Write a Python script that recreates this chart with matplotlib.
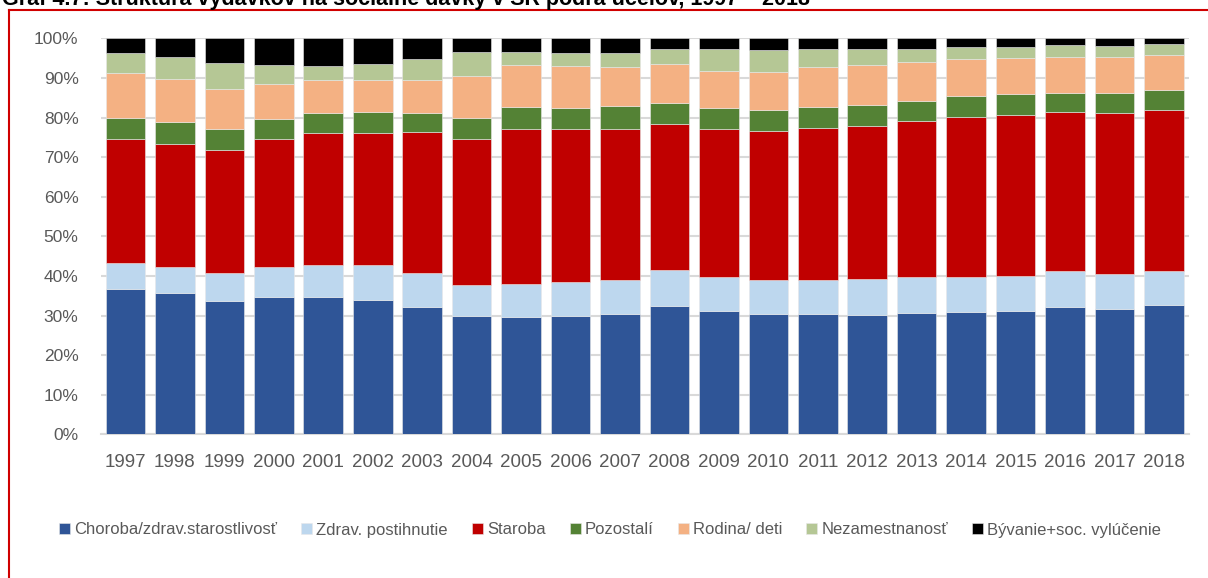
import numpy as np
import matplotlib
matplotlib.use("Agg")
import matplotlib.pyplot as plt
from matplotlib.lines import Line2D

# data (shares in %)
years = [str(y) for y in range(1997, 2019)]
choroba = [36.7, 35.7, 33.7, 34.6, 34.7, 33.9, 32.1, 29.8, 29.6, 30.0, 30.5,
           32.4, 31.2, 30.5, 30.3, 30.1, 30.6, 30.8, 31.1, 32.1, 31.6, 32.7]
postihnutie = [6.6, 6.6, 7.0, 7.6, 8.1, 8.9, 8.7, 7.9, 8.3, 8.5, 8.5,
               9.1, 8.5, 8.5, 8.7, 9.1, 9.1, 8.9, 8.8, 9.1, 8.8, 8.6]
staroba = [31.3, 31.1, 31.2, 32.4, 33.4, 33.4, 35.5, 37.0, 39.1, 38.5, 38.2,
           36.9, 37.3, 37.7, 38.3, 38.7, 39.5, 40.5, 40.8, 40.3, 40.8, 40.7]
pozostali = [5.3, 5.4, 5.2, 5.0, 4.9, 5.2, 4.8, 5.3, 5.6, 5.4, 5.6,
             5.3, 5.3, 5.2, 5.3, 5.3, 5.0, 5.2, 5.2, 4.8, 4.9, 4.9]
rodina = [11.3, 10.9, 10.0, 8.9, 8.4, 8.1, 8.4, 10.4, 10.6, 10.7, 10.0,
          9.7, 9.4, 9.7, 10.1, 10.1, 9.8, 9.4, 9.1, 8.9, 9.3, 8.8]
nezamestnanost = [5.0, 5.6, 6.7, 4.8, 3.6, 4.0, 5.4, 6.1, 3.3, 3.3, 3.6,
                  3.8, 5.7, 5.4, 4.5, 3.9, 3.4, 2.9, 2.9, 3.0, 2.7, 2.9]
byvanie = [3.8, 4.7, 6.2, 6.7, 6.9, 6.5, 5.1, 3.5, 3.5, 3.6, 3.6,
           2.8, 2.6, 3.0, 2.8, 2.8, 2.6, 2.3, 2.1, 1.8, 1.9, 1.4]

labels = ["Choroba/zdrav.starostlivosť", "Zdrav. postihnutie", "Staroba",
          "Pozostalí", "Rodina/ deti", "Nezamestnanosť", "Bývanie+soc. vylúčenie"]
series = [choroba, postihnutie, staroba, pozostali, rodina, nezamestnanost, byvanie]
colors = ["#2F5597", "#BDD7EE", "#C00000", "#548235", "#F4B183", "#B5C795", "#000000"]

plt.rcParams['font.family'] = ['Liberation Sans', 'DejaVu Sans']
grey = "#595959"

fig = plt.figure(figsize=(12.08, 5.78), dpi=100)
ax = fig.add_axes([0.0834, 0.2486, 0.9006, 0.6851])

x = np.arange(len(years))
bottom = np.zeros(len(years))
for vals, lab, col in zip(series, labels, colors):
    vals = np.array(vals)
    ax.bar(x, vals, 0.8, bottom=bottom, color=col, label=lab,
           edgecolor="#E8E8E8", linewidth=0.4, zorder=3)
    bottom += vals

ax.set_xlim(-0.5, 21.5)
ax.set_ylim(0, 100)
ax.set_yticks(range(0, 101, 10))
ax.set_yticklabels([f"{v}%" for v in range(0, 101, 10)])
ax.set_xticks(x)
ax.set_xticklabels(years)
ax.yaxis.grid(True, color="#D9D9D9", linewidth=1.5, zorder=0)
ax.tick_params(axis="both", length=0, colors=grey)
ax.tick_params(axis="y", labelsize=12.5, pad=16)
ax.tick_params(axis="x", labelsize=13.5, pad=14)
for s in ["top", "right", "left"]:
    ax.spines[s].set_visible(False)
ax.spines["bottom"].set_color("#D9D9D9")
ax.spines["bottom"].set_linewidth(1.5)

fig.legend(loc="center", bbox_to_anchor=(0.505, 1 - 530 / 578), ncol=7,
           frameon=False, fontsize=12, handlelength=0.65, handleheight=0.65,
           handletextpad=0.25, columnspacing=1.45, labelcolor=grey)

# frame and cut-off title
fig.add_artist(Line2D([9 / 1208, 9 / 1208], [0, 1 - 10 / 578], transform=fig.transFigure,
                      color="#D00000", linewidth=1.5))
fig.add_artist(Line2D([9 / 1208, 1], [1 - 10 / 578, 1 - 10 / 578], transform=fig.transFigure,
                      color="#D00000", linewidth=1.5))
fig.text(2 / 1208, 1 - 5 / 578,
         "Graf 4.7: Štruktúra výdavkov na sociálne dávky v SR podľa účelov, 1997 – 2018",
         fontsize=15.5, fontweight="bold", va="baseline", ha="left")

fig.savefig("out.png", dpi=100)
